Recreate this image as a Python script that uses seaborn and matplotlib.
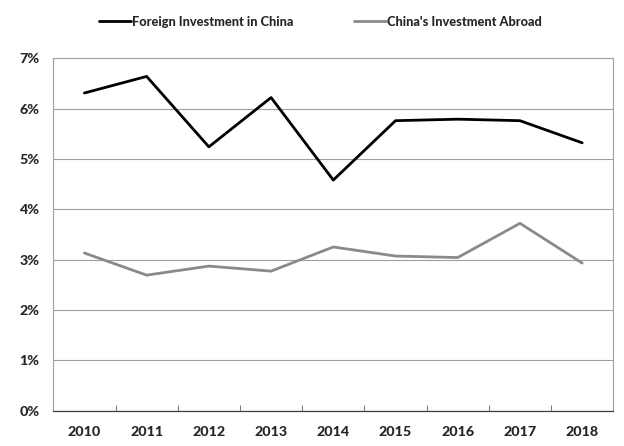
import numpy as np
import pandas as pd
import matplotlib
matplotlib.use("Agg")
import matplotlib.pyplot as plt
from matplotlib.ticker import FixedLocator, PercentFormatter
import seaborn as sns

# --- data ---
YEARS = [2010, 2011, 2012, 2013, 2014, 2015, 2016, 2017, 2018]
FOREIGN_IN_CHINA = [6.31, 6.64, 5.24, 6.22, 4.58, 5.76, 5.79, 5.76, 5.32]
CHINA_ABROAD = [3.13, 2.69, 2.87, 2.77, 3.25, 3.07, 3.04, 3.72, 2.93]
SERIES_NAMES = ["Foreign Investment in China", "China's Investment Abroad"]
Y_TICKS = [0, 1, 2, 3, 4, 5, 6, 7]

df = pd.concat([
    pd.DataFrame({"year": YEARS, "value": FOREIGN_IN_CHINA, "series": SERIES_NAMES[0]}),
    pd.DataFrame({"year": YEARS, "value": CHINA_ABROAD, "series": SERIES_NAMES[1]}),
], ignore_index=True)

sns.set_style("white")
plt.rcParams["font.family"] = ["Lato", "DejaVu Sans"]
WEIGHT = "black"
plt.rcParams["font.weight"] = WEIGHT

W, H = 624, 446
fig = plt.figure(figsize=(W / 100, H / 100), dpi=100)
# axes box measured in pixels: left 53, right 613, top 58, bottom 410
ax = fig.add_axes([53.3 / W, 1 - 410.5 / H, (613.3 - 53.3) / W, (410.5 - 58.3) / H])

sns.lineplot(data=df, x="year", y="value", hue="series", hue_order=SERIES_NAMES,
             palette=["#000000", "#8a8a8a"], linewidth=2.0, ax=ax)

ax.set_xlim(YEARS[0] - 0.5, YEARS[-1] + 0.5)
ax.set_ylim(0, 7)
ax.set_xticks(YEARS)
ax.set_xticklabels([str(y) for y in YEARS], fontsize=10.3, fontweight=WEIGHT)
ax.xaxis.set_minor_locator(FixedLocator([y + 0.5 for y in YEARS[:-1]]))
ax.tick_params(axis="x", which="major", length=0, pad=11)
ax.tick_params(axis="x", which="minor", direction="in", length=4.5, width=0.8,
               color="#808080", bottom=True)
ax.set_yticks(Y_TICKS)
ax.yaxis.set_major_formatter(PercentFormatter(decimals=0))
ax.tick_params(axis="y", length=0, pad=10, labelsize=10.3)
for lab in ax.get_yticklabels():
    lab.set_fontweight(WEIGHT)

ax.grid(axis="y", color="#a0a0a0", linewidth=0.8)
ax.set_axisbelow(True)
for side in ["top", "left", "right"]:
    ax.spines[side].set_color("#a0a0a0")
    ax.spines[side].set_linewidth(0.8)
ax.spines["bottom"].set_color("#404040")
ax.spines["bottom"].set_linewidth(0.9)

ax.set_xlabel("")
ax.set_ylabel("")
handles, labels = ax.get_legend_handles_labels()
ax.legend(handles, labels, loc="center", bbox_to_anchor=(320.5 / W, 1 - 21.7 / H),
          bbox_transform=fig.transFigure, ncol=2, frameon=False,
          handlelength=2.5, handletextpad=0.05, columnspacing=4.8,
          prop={"size": 9.2, "weight": WEIGHT})

fig.savefig("out.png", dpi=100)
